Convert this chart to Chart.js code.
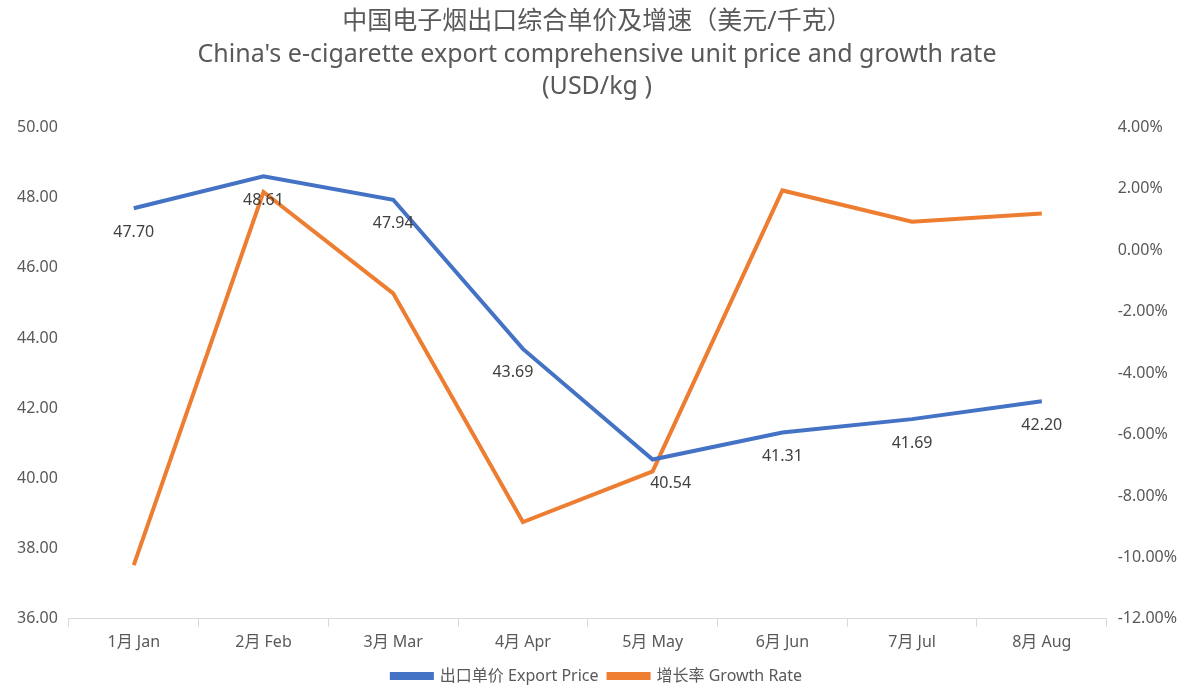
<!DOCTYPE html>
<html>
<head>
<meta charset="utf-8">
<script src="https://cdn.jsdelivr.net/npm/chart.js@4"></script>
<style>
  html, body { margin: 0; background: #fff; }
  #wrap { width: 1200px; height: 700px; }
</style>
</head>
<body>
<div id="wrap"><canvas id="c"></canvas></div>
<script>
// Data
const MONTHS = ["1月 Jan", "2月 Feb", "3月 Mar", "4月 Apr", "5月 May", "6月 Jun", "7月 Jul", "8月 Aug"];
const PRICE = [47.70, 48.61, 47.94, 43.69, 40.54, 41.31, 41.69, 42.20];
const GROWTH = [-10.25, 1.9, -1.4, -8.85, -7.2, 1.95, 0.93, 1.2];

const FONT = "'Noto Sans', 'Noto Sans CJK SC', sans-serif";

// Value labels under the price line
const priceLabels = {
  id: "priceLabels",
  afterDatasetsDraw(chart) {
    const { ctx } = chart;
    const meta = chart.getDatasetMeta(0);
    ctx.save();
    ctx.font = `16px ${FONT}`;
    ctx.fillStyle = "#404040";
    ctx.textAlign = "center";
    ctx.textBaseline = "middle";
    meta.data.forEach((pt, i) => {
      let dx = 0;
      if (i === 3) dx = -10;
      if (i === 4) dx = 18;
      ctx.fillText(PRICE[i].toFixed(2), pt.x + dx, pt.y + 24);
    });
    ctx.restore();
  },
};

new Chart(document.getElementById("c"), {
  type: "line",
  data: {
    labels: MONTHS,
    datasets: [
      {
        label: "出口单价 Export Price",
        data: PRICE,
        yAxisID: "y",
        borderColor: "#4472c4",
        backgroundColor: "#4472c4",
        borderWidth: 4,
        pointRadius: 0,
        tension: 0,
      },
      {
        label: "增长率 Growth Rate",
        data: GROWTH,
        yAxisID: "y1",
        borderColor: "#ed7d31",
        backgroundColor: "#ed7d31",
        borderWidth: 4,
        pointRadius: 0,
        tension: 0,
      },
    ],
  },
  options: {
    responsive: true,
    maintainAspectRatio: false,
    animation: false,
    layout: { padding: { left: 14, right: 20, top: 0, bottom: 6 } },
    plugins: {
      title: {
        display: true,
        text: ["中国电子烟出口综合单价及增速（美元/千克）", "China's e-cigarette export comprehensive unit price and growth rate", "(USD/kg )"],
        color: "#595959",
        font: { family: FONT, size: 25, weight: "normal", lineHeight: 1.3 },
        padding: { top: 6, bottom: 24 },
      },
      legend: {
        position: "bottom",
        labels: {
          color: "#595959",
          font: { family: FONT, size: 16 },
          boxWidth: 40,
          boxHeight: 4,
          padding: 10,
        },
      },
      tooltip: { enabled: false },
    },
    scales: {
      x: {
        offset: true,
        ticks: { color: "#595959", font: { family: FONT, size: 16 }, padding: 6 },
        grid: { display: true, drawOnChartArea: false, offset: true, tickLength: 8, color: "#d9d9d9" },
        border: { color: "#d9d9d9" },
      },
      y: {
        position: "left",
        min: 36,
        max: 50,
        ticks: { stepSize: 2, color: "#595959", font: { family: FONT, size: 16 }, callback: (v) => v.toFixed(2) },
        grid: { display: false },
        border: { display: false },
      },
      y1: {
        position: "right",
        min: -12,
        max: 4,
        ticks: { stepSize: 2, color: "#595959", font: { family: FONT, size: 16 }, callback: (v) => v.toFixed(2) + "%" },
        grid: { display: false },
        border: { display: false },
      },
    },
  },
  plugins: [priceLabels],
});
</script>
</body>
</html>
